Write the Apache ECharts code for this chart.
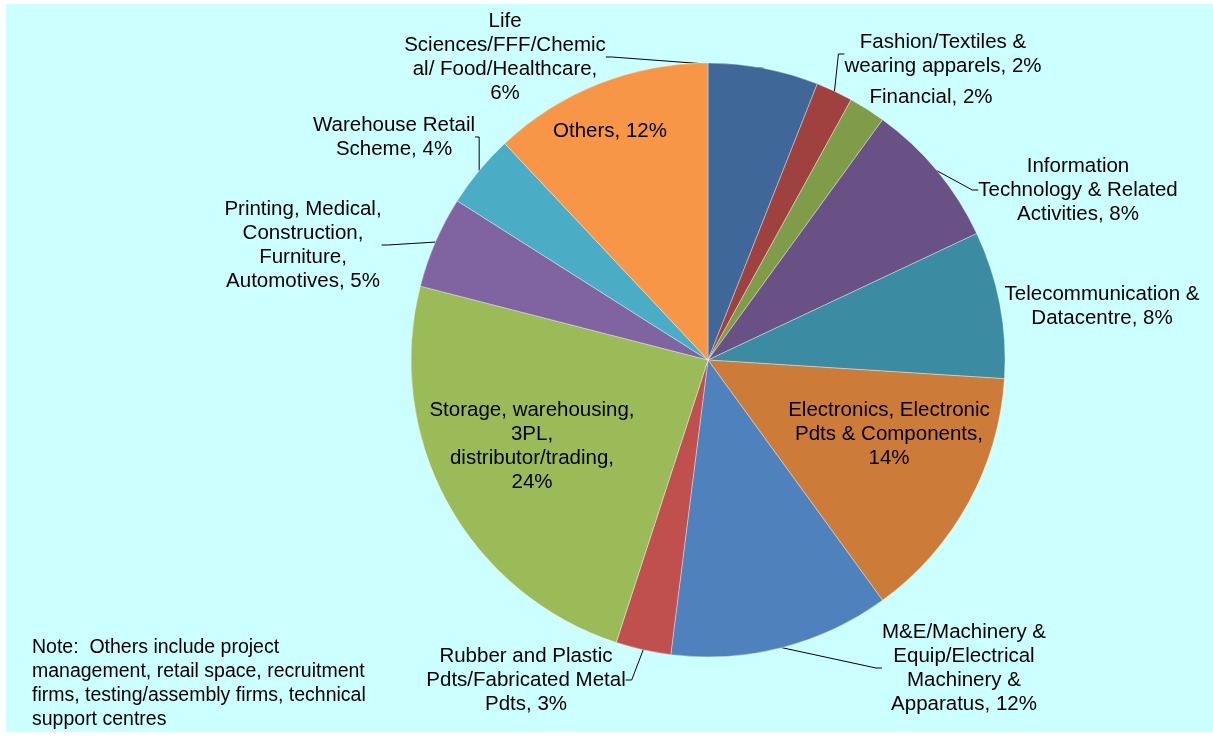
<!DOCTYPE html>
<html>
<head>
<meta charset="utf-8">
<script src="https://cdn.jsdelivr.net/npm/echarts@6/dist/echarts.min.js"></script>
<style>
  html, body { margin: 0; padding: 0; background: #ffffff; }
  #wrap { position: relative; width: 1213px; height: 736px; overflow: hidden; }
  #panel { position: absolute; left: 6px; top: 4px; width: 1207px; height: 728px; background: #CCFFFF; }
  #chart { position: absolute; left: 0; top: 0; width: 1213px; height: 736px; }
</style>
</head>
<body>
<div id="wrap">
  <div id="panel"></div>
  <div id="chart"></div>
</div>
<script>
// Sectors, clockwise from 12 o'clock
const categories = [
  'Life Sciences/FFF/Chemical/ Food/Healthcare',
  'Fashion/Textiles & wearing apparels',
  'Financial',
  'Information Technology & Related Activities',
  'Telecommunication & Datacentre',
  'Electronics, Electronic Pdts & Components',
  'M&E/Machinery & Equip/Electrical Machinery & Apparatus',
  'Rubber and Plastic Pdts/Fabricated Metal Pdts',
  'Storage, warehousing, 3PL, distributor/trading',
  'Printing, Medical, Construction, Furniture, Automotives',
  'Warehouse Retail Scheme',
  'Others'
];

// Share of each sector, in percent
const shares = [6, 2, 2, 8, 8, 14, 12, 3, 24, 5, 4, 12];

// Wrapped label text; the percentage is appended after it
const labelText = [
  'Life\nSciences/FFF/Chemic\nal/ Food/Healthcare,\n',
  'Fashion/Textiles &\nwearing apparels, ',
  'Financial, ',
  'Information\nTechnology & Related\nActivities, ',
  'Telecommunication &\nDatacentre, ',
  'Electronics, Electronic\nPdts & Components,\n',
  'M&E/Machinery &\nEquip/Electrical\nMachinery &\nApparatus, ',
  'Rubber and Plastic\nPdts/Fabricated Metal\nPdts, ',
  'Storage, warehousing,\n3PL,\ndistributor/trading,\n',
  'Printing, Medical,\nConstruction,\nFurniture,\nAutomotives, ',
  'Warehouse Retail\nScheme, ',
  'Others, '
];

const noteText = 'Note:  Others include project\nmanagement, retail space, recruitment\nfirms, testing/assembly firms, technical\nsupport centres';

const colors = ['#3F6797', '#9F413E', '#7F9C48', '#695185', '#3B8BA2', '#CD7B38',
                '#4F81BD', '#C0504D', '#9BBB59', '#8064A2', '#4BACC6', '#F79646'];

// Label block centres (px) and placement style
const labelSpots = [
  [505, 57], [943, 54], [931, 97], [1078, 190], [1102, 306], [889, 434],
  [964, 668], [526, 680], [532, 446], [303, 245], [394, 137], [610, 131]
];
const insideLabel = [false, false, false, false, false, true, false, false, true, false, false, true];
const leaderLine = [true, true, false, true, false, false, true, true, false, true, true, false];

const FONT = '"Liberation Sans", Arial, sans-serif';

const chart = echarts.init(document.getElementById('chart'), null, { renderer: 'canvas' });

const pieData = categories.map((name, i) => ({
  name: name,
  value: shares[i],
  itemStyle: { color: colors[i] },
  label: { position: insideLabel[i] ? 'inside' : 'outside' },
  labelLine: { show: leaderLine[i] }
}));

chart.setOption({
  backgroundColor: 'transparent',
  animation: false,
  title: {
    text: noteText,
    left: 27,
    top: 631,
    textStyle: {
      fontFamily: FONT,
      fontSize: 19.5,
      fontWeight: 'normal',
      color: '#000000',
      lineHeight: 24
    }
  },
  series: [{
    type: 'pie',
    center: [708, 360],
    radius: [0, 297],
    startAngle: 90,
    clockwise: true,
    data: pieData,
    itemStyle: { borderColor: 'rgba(255,255,255,0.6)', borderWidth: 0.6 },
    label: {
      show: true,
      formatter: p => labelText[p.dataIndex] + p.value + '%',
      fontFamily: FONT,
      fontSize: 20.5,
      lineHeight: 24,
      color: '#000000',
      align: 'center',
      overflow: 'none'
    },
    labelLine: {
      length: 10,
      length2: 6,
      lineStyle: { color: '#000000', width: 1 }
    },
    labelLayout: function (params) {
      const s = labelSpots[params.dataIndex];
      return { x: s[0], y: s[1], align: 'center', verticalAlign: 'middle', hideOverlap: false };
    },
    emphasis: { disabled: true }
  }]
});
</script>
</body>
</html>
